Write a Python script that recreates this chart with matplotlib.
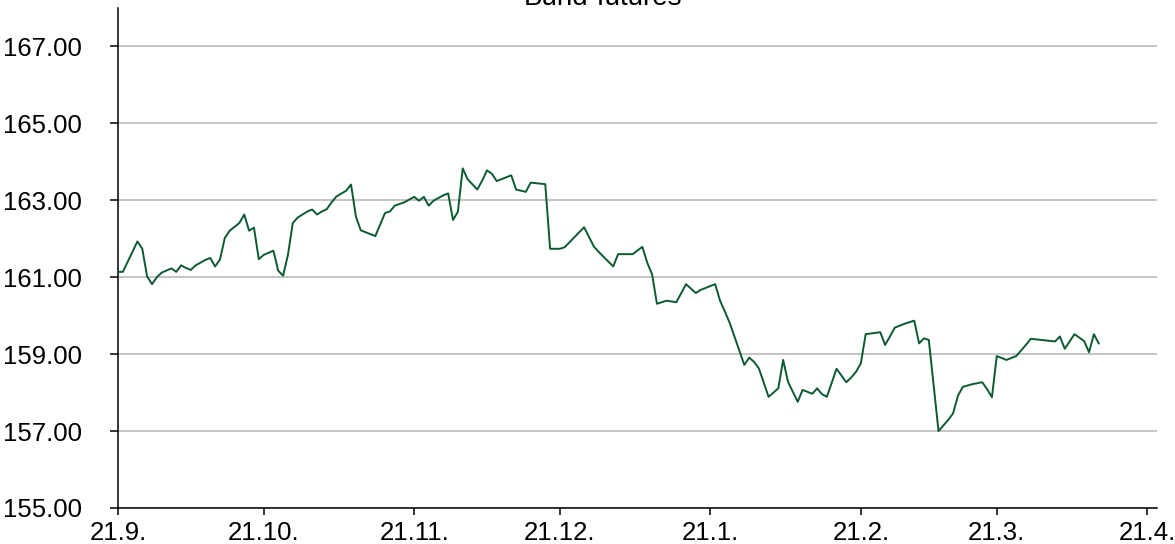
import numpy as np
import matplotlib
matplotlib.use("Agg")
import matplotlib.pyplot as plt

plt.rcParams['font.family'] = ['Liberation Sans', 'DejaVu Sans']

title = "Bund-futures"
start_date = "2020-09-21"
# trading-day offsets (days since 21.9.)
day_offsets = [0, 1, 4, 5, 6, 7, 8, 9, 11, 12, 13, 14, 15, 16, 18, 19, 20, 21, 22, 23,
               25, 26, 27, 28, 29, 30, 32, 33, 34, 35, 36, 37, 39, 40, 41, 42, 43, 44, 45, 47,
               48, 49, 50, 53, 55, 56, 57, 59, 61, 62, 63, 64, 65, 67, 68, 69, 70, 71, 72, 74,
               75, 76, 77, 78, 81, 82, 84, 85, 88, 89, 91, 92, 96, 98, 99, 102, 103, 106, 108, 109,
               110, 111, 113, 115, 117, 119, 120, 123, 124, 125, 126, 129, 130, 131, 132, 134, 136, 137, 138, 140,
               141, 143, 144, 145, 146, 148, 150, 151, 152, 153, 154, 157, 158, 159, 160, 162, 164, 165, 166, 167,
               169, 171, 172, 173, 174, 176, 178, 179, 180, 181, 183, 185, 187, 188, 193, 194, 195, 197, 199, 200,
               201, 202]
prices = [161.14, 161.14, 161.93, 161.74, 161.02, 160.82, 161.00, 161.12, 161.23, 161.14, 161.31, 161.24, 161.19, 161.31, 161.45, 161.50, 161.28, 161.46, 162.02, 162.21,
          162.41, 162.63, 162.21, 162.29, 161.47, 161.58, 161.69, 161.17, 161.04, 161.58, 162.41, 162.55, 162.71, 162.76, 162.63, 162.71, 162.77, 162.95, 163.10, 163.25,
          163.41, 162.58, 162.22, 162.07, 162.67, 162.71, 162.86, 162.95, 163.09, 162.99, 163.09, 162.86, 162.99, 163.13, 163.18, 162.49, 162.70, 163.83, 163.55, 163.28,
          163.51, 163.78, 163.69, 163.50, 163.65, 163.28, 163.22, 163.46, 163.42, 161.74, 161.74, 161.78, 162.30, 161.80, 161.66, 161.28, 161.60, 161.60, 161.79, 161.38,
          161.08, 160.31, 160.39, 160.35, 160.82, 160.59, 160.67, 160.82, 160.39, 160.11, 159.81, 158.72, 158.91, 158.80, 158.63, 157.89, 158.11, 158.85, 158.28, 157.76,
          158.07, 157.97, 158.11, 157.96, 157.89, 158.62, 158.27, 158.39, 158.54, 158.76, 159.52, 159.57, 159.24, 159.46, 159.69, 159.79, 159.87, 159.28, 159.41, 159.37,
          157.00, 157.29, 157.46, 157.92, 158.15, 158.22, 158.27, 158.09, 157.88, 158.95, 158.85, 158.95, 159.24, 159.40, 159.33, 159.46, 159.14, 159.52, 159.34, 159.05,
          159.52, 159.28]
x_tick_dates = ["2020-09-21", "2020-10-21", "2020-11-21", "2020-12-21", "2021-01-21",
                "2021-02-21", "2021-03-21", "2021-04-21"]
x_tick_labels = ["21.9.", "21.10.", "21.11.", "21.12.", "21.1.", "21.2.", "21.3.", "21.4."]
y_ticks = [155, 157, 159, 161, 163, 165, 167]

dates = np.datetime64(start_date) + np.array(day_offsets).astype('timedelta64[D]')
dates = dates.astype('datetime64[D]').astype(object)

fig = plt.figure(figsize=(11.75, 5.44), dpi=100)
ax = fig.add_axes([118/1175, 1-508/544, (1157-118)/1175, (508-8)/544])

ax.plot(dates, prices, color="#0b5a32", lw=1.4, zorder=3)

xt = [np.datetime64(d).astype(object) for d in x_tick_dates]
ax.set_xticks(xt)
ax.set_xticklabels(x_tick_labels)
ax.set_xlim(np.datetime64(start_date).astype(object),
            (np.datetime64(start_date) + np.timedelta64(214, 'D')).astype(object))
ax.set_ylim(155, 168)
ax.set_yticks(y_ticks)
ax.set_yticklabels([f"{v:.2f}" for v in y_ticks])

ax.grid(axis='y', color='#c4c4c4', lw=1.4, zorder=1)
ax.set_axisbelow(True)
for s in ['top', 'right']:
    ax.spines[s].set_visible(False)
for s in ['left', 'bottom']:
    ax.spines[s].set_linewidth(1.1)
    ax.spines[s].set_color('black')

ax.tick_params(axis='y', length=6, width=1.1, pad=20, labelsize=18.5)
ax.tick_params(axis='x', length=5, width=1.1, pad=4, labelsize=18.5)

fig.text(603/1175, 1-5/544, title, ha='center', va='baseline', fontsize=20)

fig.savefig("out.png", dpi=100)
